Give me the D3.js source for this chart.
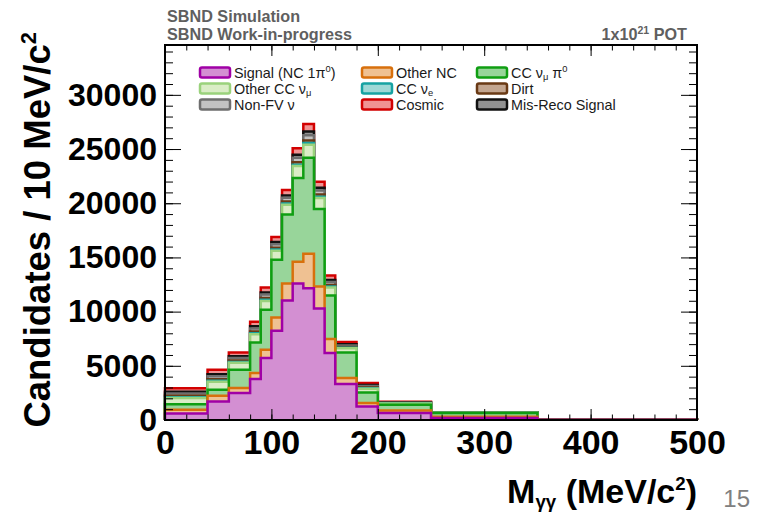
<!DOCTYPE html>
<html>
<head>
<meta charset="utf-8">
<script src="https://cdn.jsdelivr.net/npm/d3@7"></script>
<style>
  body { margin: 0; background: #fff; }
  svg { display: block; font-family: "Liberation Sans", Arial, Helvetica, sans-serif; }
  .tick line { stroke: #000; stroke-width: 1; }
</style>
</head>
<body>
<svg id="chart"></svg>
<script>
// chart size and plot frame
const width = 758;
const height = 514;
const frame = { left: 165, right: 697, top: 45, bottom: 420 };

// bin edges in MeV/c^2
const binEdges = [0, 40, 60, 80, 90, 100, 110, 120, 130, 140, 150, 160, 180, 200, 250, 350, 500];

// per-bin contributions of every sample
const signal    = [600, 1715, 2490, 3780, 5715, 8230, 11025, 12590, 12165, 10285, 6175, 3320, 1255, 645, 185, 20];
const otherNC   = [350, 525, 460, 550, 765, 1225, 1565, 2000, 3165, 2030, 1290, 550, 310, 240, 115, 8];
const ccNumuPi0 = [500, 550, 1685, 2820, 3685, 5320, 6360, 7740, 8870, 7160, 4020, 2360, 980, 525, 345, 15];
const otherCC   = [590, 740, 640, 765, 825, 850, 910, 1095, 1200, 1005, 740, 385, 345, 110, 30, 4];
const ccNue     = [70, 90, 80, 95, 105, 105, 115, 135, 155, 125, 90, 50, 45, 15, 5, 1];
const dirt      = [120, 150, 130, 155, 165, 170, 180, 220, 245, 200, 150, 75, 70, 25, 5, 1];
const nonFV     = [220, 275, 240, 285, 310, 320, 340, 410, 470, 375, 275, 145, 130, 40, 10, 2];
const misReco   = [150, 185, 160, 190, 205, 210, 230, 275, 340, 255, 185, 95, 85, 30, 10, 1];
const cosmic    = [320, 405, 345, 420, 455, 465, 500, 605, 700, 555, 405, 210, 190, 60, 15, 1];

// axis ticks
const xMajorTicks = [0, 100, 200, 300, 400, 500];
const yMajorTicks = [0, 5000, 10000, 15000, 20000, 25000, 30000];
const yMax = 34600;

// stacking order, bottom to top
const layers = [
    { name: 'signal',    values: signal,    fill: '#d38fd2', stroke: '#a000a6' },
    { name: 'otherNC',   values: otherNC,   fill: '#efc192', stroke: '#d8700c' },
    { name: 'ccNumuPi0', values: ccNumuPi0, fill: '#98d59a', stroke: '#0f9e12' },
    { name: 'otherCC',   values: otherCC,   fill: '#daedc6', stroke: '#9ad27c' },
    { name: 'ccNue',     values: ccNue,     fill: '#9fd8d6', stroke: '#17a2a2' },
    { name: 'dirt',      values: dirt,      fill: '#c3a690', stroke: '#6a3a15' },
    { name: 'nonFV',     values: nonFV,     fill: '#c2c2c2', stroke: '#6e6e6e' },
    { name: 'misReco',   values: misReco,   fill: '#929292', stroke: '#111111' },
    { name: 'cosmic',    values: cosmic,    fill: '#f09393', stroke: '#d20000' }
];

// legend, filled row by row in three columns
const legendItems = [
    { layer: 'signal',    label: [['Signal (NC 1π', ''], ['0', 'sup'], [')', '']] },
    { layer: 'otherNC',   label: [['Other NC', '']] },
    { layer: 'ccNumuPi0', label: [['CC ν', ''], ['μ', 'sub'], [' π', ''], ['0', 'sup']] },
    { layer: 'otherCC',   label: [['Other CC ν', ''], ['μ', 'sub']] },
    { layer: 'ccNue',     label: [['CC ν', ''], ['e', 'sub']] },
    { layer: 'dirt',      label: [['Dirt', '']] },
    { layer: 'nonFV',     label: [['Non-FV ν', '']] },
    { layer: 'cosmic',    label: [['Cosmic', '']] },
    { layer: 'misReco',   label: [['Mis-Reco Signal', '']] }
];

const svg = d3.select('#chart').attr('width', width).attr('height', height);

const x = d3.scaleLinear().domain([0, 500]).range([frame.left, frame.right]);
const y = d3.scaleLinear().domain([0, yMax]).range([frame.bottom, frame.top]);

// cumulative sums
let running = binEdges.slice(1).map(() => 0);
layers.forEach(l => {
    running = running.map((r, i) => r + l.values[i]);
    l.cum = running.slice();
});

function stepPath(cum) {
    let p = `M${x(binEdges[0])},${y(0)}`;
    cum.forEach((v, i) => {
        p += `L${x(binEdges[i])},${y(v)}L${x(binEdges[i + 1])},${y(v)}`;
    });
    p += `L${x(binEdges[binEdges.length - 1])},${y(0)}`;
    return p;
}

// draw the highest cumulative first so lower layers sit on top
const histG = svg.append('g');
layers.slice().reverse().forEach(l => {
    histG.append('path')
        .attr('d', stepPath(l.cum))
        .attr('fill', l.fill)
        .attr('stroke', l.stroke)
        .attr('stroke-width', 2.5)
        .attr('stroke-linejoin', 'miter');
});

// axes with inward ticks
function minorTicks(lo, hi, step) {
    return d3.range(lo, hi + step / 2, step);
}

svg.append('g')
    .attr('transform', `translate(0,${frame.bottom})`)
    .call(d3.axisBottom(x).tickValues(minorTicks(0, 500, 20)).tickSize(-5.5).tickFormat(''))
    .call(g => g.select('.domain').remove());
svg.append('g')
    .attr('transform', `translate(0,${frame.bottom})`)
    .call(d3.axisBottom(x).tickValues(xMajorTicks).tickSize(-11).tickPadding(10).tickFormat(d3.format('d')))
    .call(g => g.select('.domain').remove())
    .call(g => g.selectAll('text').attr('fill', '#000').style('font-size', '34px').style('font-weight', 'bold'));

svg.append('g')
    .attr('transform', `translate(0,${frame.top})`)
    .call(d3.axisTop(x).tickValues(minorTicks(0, 500, 20)).tickSize(-5.5).tickFormat(''))
    .call(g => g.select('.domain').remove());
svg.append('g')
    .attr('transform', `translate(0,${frame.top})`)
    .call(d3.axisTop(x).tickValues(xMajorTicks).tickSize(-11).tickFormat(''))
    .call(g => g.select('.domain').remove());

svg.append('g')
    .attr('transform', `translate(${frame.left},0)`)
    .call(d3.axisLeft(y).tickValues(minorTicks(0, 34000, 1000)).tickSize(-8).tickFormat(''))
    .call(g => g.select('.domain').remove());
svg.append('g')
    .attr('transform', `translate(${frame.left},0)`)
    .call(d3.axisLeft(y).tickValues(yMajorTicks).tickSize(-16).tickPadding(8).tickFormat(d3.format('d')))
    .call(g => g.select('.domain').remove())
    .call(g => g.selectAll('text').attr('fill', '#000').style('font-size', '32px').style('font-weight', 'bold'));

svg.append('g')
    .attr('transform', `translate(${frame.right},0)`)
    .call(d3.axisRight(y).tickValues(minorTicks(0, 34000, 1000)).tickSize(-8).tickFormat(''))
    .call(g => g.select('.domain').remove());
svg.append('g')
    .attr('transform', `translate(${frame.right},0)`)
    .call(d3.axisRight(y).tickValues(yMajorTicks).tickSize(-16).tickFormat(''))
    .call(g => g.select('.domain').remove());

// frame
svg.append('rect')
    .attr('x', frame.left).attr('y', frame.top)
    .attr('width', frame.right - frame.left).attr('height', frame.bottom - frame.top)
    .attr('fill', 'none').attr('stroke', '#000').attr('stroke-width', 2);

// text with sub/superscript chunks
function addRich(textSel, parts, size, subDrop = 0.25, subScale = 0.65) {
    let shift = 0;
    parts.forEach(([t, kind]) => {
        const ts = textSel.append('tspan').text(t);
        let target = 0;
        if (kind === 'sub') target = size * subDrop;
        if (kind === 'sup') target = -size * 0.38;
        if (target !== shift) ts.attr('dy', target - shift);
        shift = target;
        if (kind) ts.style('font-size', (size * subScale) + 'px');
    });
}

const legendCols = [200, 362, 477];
const legendRows = [72.5, 88.5, 104.5];
const layerByName = Object.fromEntries(layers.map(l => [l.name, l]));
legendItems.forEach((item, i) => {
    const cx = legendCols[i % 3];
    const cy = legendRows[Math.floor(i / 3)];
    const l = layerByName[item.layer];
    svg.append('rect')
        .attr('x', cx).attr('y', cy - 5)
        .attr('width', 30).attr('height', 10)
        .attr('rx', 2)
        .attr('fill', l.fill).attr('stroke', l.stroke).attr('stroke-width', 2.5);
    const t = svg.append('text')
        .attr('x', cx + 34).attr('y', cy + 5)
        .attr('fill', '#1a1a1a')
        .style('font-size', '14.4px');
    addRich(t, item.label, 14.4, 0.14, 0.65);
});

// header texts
svg.append('text').attr('x', 167).attr('y', 22)
    .attr('fill', '#5f5f5f').style('font-size', '16.2px').style('font-weight', 'bold')
    .text('SBND Simulation');
svg.append('text').attr('x', 167).attr('y', 40)
    .attr('fill', '#5f5f5f').style('font-size', '16.2px').style('font-weight', 'bold')
    .text('SBND Work-in-progress');
const pot = svg.append('text').attr('x', 687).attr('y', 40)
    .attr('text-anchor', 'end')
    .attr('fill', '#5f5f5f').style('font-size', '16.2px').style('font-weight', 'bold');
addRich(pot, [['1x10', ''], ['21', 'sup'], [' POT', '']], 16.2);

// axis titles
const xTitle = svg.append('text').attr('x', frame.right).attr('y', 503)
    .attr('text-anchor', 'end')
    .attr('fill', '#000').style('font-size', '34px').style('font-weight', 'bold');
addRich(xTitle, [['M', ''], ['γγ', 'sub'], [' (MeV/c', ''], ['2', 'sup'], [')', '']], 34, 0.15, 0.55);

const yTitle = svg.append('text')
    .attr('transform', 'translate(50,32) rotate(-90)')
    .attr('text-anchor', 'end')
    .attr('fill', '#000').style('font-size', '36.5px').style('font-weight', 'bold');
addRich(yTitle, [['Candidates / 10 MeV/c', ''], ['2', 'sup']], 36.5, 0.2, 0.6);

// slide number
svg.append('text').attr('x', 750).attr('y', 507)
    .attr('text-anchor', 'end')
    .attr('fill', '#808080').style('font-size', '24px')
    .text('15');
</script>
</body>
</html>
